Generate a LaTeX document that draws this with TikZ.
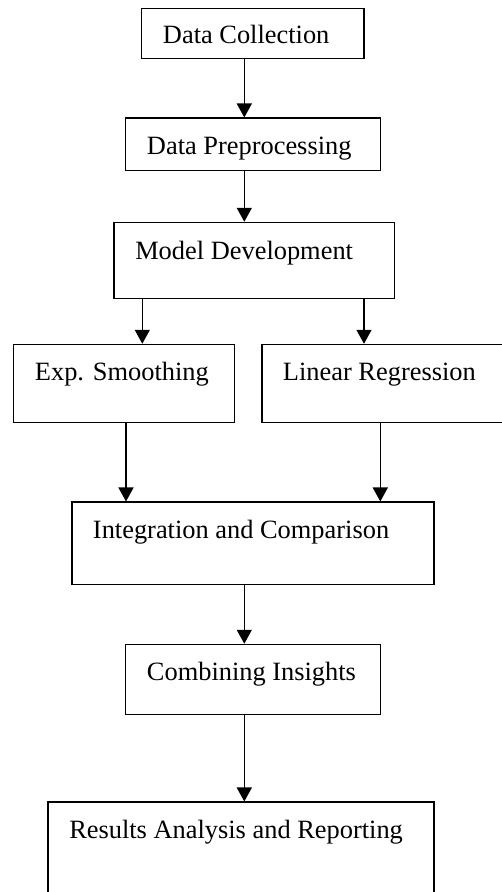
\documentclass[tikz,border=0pt]{standalone}
\usepackage{fontspec}
\setmainfont{Liberation Serif}
\usetikzlibrary{arrows.meta,fit}
\tikzset{
  box/.style={draw=black, line width=0.8pt, inner sep=0pt, fill=none},
  lbl/.style={anchor=base west, inner sep=0pt, font=\fontsize{19.8pt}{24pt}\selectfont},
  flow/.style={draw=black, line width=1.15pt, -{Triangle[width=11.25pt,length=10.5pt]}},
}
\begin{document}
\begin{tikzpicture}[x=0.75pt,y=-0.75pt]
\path[use as bounding box] (0,0) rectangle (502,892);
\clip (0,0) rectangle (502,892);
\fill[white] (0,0) rectangle (502,892);
% boxes
\node[box, fit={(141.7,8.3) (364,58.7)}] (b1) {};
\node[box, fit={(125.7,118) (380.3,170.7)}] (b2) {};
\node[box, fit={(114,222.3) (394.3,298.3)}] (b3) {};
\node[box, fit={(13.7,344.3) (234.3,422.7)}] (b4) {};
\node[box, fit={(262,344.3) (530,422.7)}] (b5) {};
\node[box, fit={(72,502) (434,584.7)}] (b6) {};
\node[box, fit={(125.7,644.3) (380.3,714.7)}] (b7) {};
\node[box, fit={(48,802) (434,930)}] (b8) {};
% texts
\node[lbl] (t1) at (162.7,44) {Data Collection};
\node[lbl] (t2) at (146.7,154) {Data Preprocessing};
\node[lbl] (t3) at (135,259) {Model Development};
\node[lbl] (t4) at (34.7,380) {Exp. Smoothing};
\node[lbl] (t5) at (282.7,380) {Linear Regression};
\node[lbl] (t6) at (92.7,538.3) {Integration and Comparison};
\node[lbl] (t7) at (146.7,680.7) {Combining Insights};
\node[lbl] (t8) at (69,838.3) {Results Analysis and Reporting};
% arrow x positions
\coordinate (xm) at (244.3,0);
\coordinate (xl) at (142.3,0);
\coordinate (xr) at (364,0);
\coordinate (xl2) at (126,0);
\coordinate (xr2) at (380.3,0);
% arrows
\draw[flow] (b1.south -| xm) -- (b2.north -| xm);
\draw[flow] (b2.south -| xm) -- (b3.north -| xm);
\draw[flow] (b3.south -| xl) -- (b4.north -| xl);
\draw[flow] (b3.south -| xr) -- (b5.north -| xr);
\draw[flow] (b4.south -| xl2) -- (b6.north -| xl2);
\draw[flow] (b5.south -| xr2) -- (b6.north -| xr2);
\draw[flow] (b6.south -| xm) -- (b7.north -| xm);
\draw[flow] (b7.south -| xm) -- (b8.north -| xm);
\end{tikzpicture}
\end{document}
